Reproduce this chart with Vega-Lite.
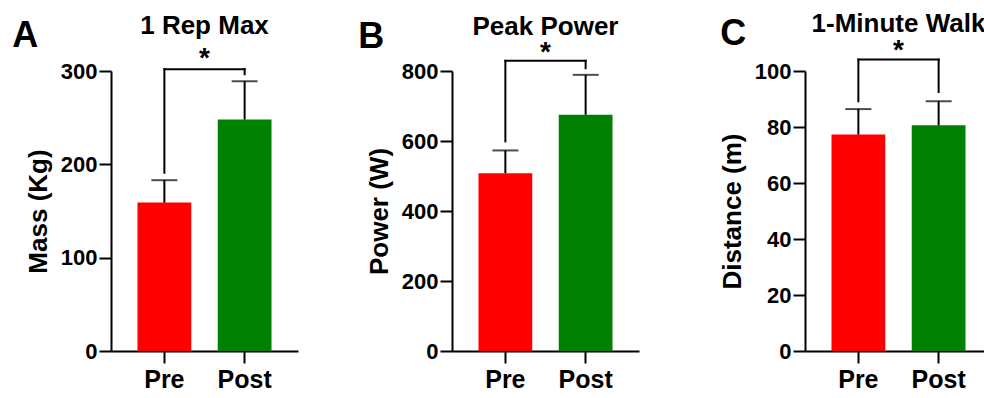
{
  "$schema": "https://vega.github.io/schema/vega-lite/v6.json",
  "padding": {"left": 12, "top": 11, "right": 0, "bottom": 0},
  "spacing": 60,
  "config": {
    "view": {"stroke": null},
    "font": "Liberation Sans",
    "axis": {"domainColor": "black", "domainWidth": 2, "tickColor": "black", "tickWidth": 2, "tickSize": 12, "labelColor": "black", "labelFont": "Liberation Sans", "labelFontWeight": "bold", "titleFont": "Liberation Sans", "titleFontWeight": "bold", "titleColor": "black", "grid": false},
    "axisY": {"labelFontSize": 22, "labelPadding": 2, "titleFontSize": 26, "titlePadding": 9},
    "axisX": {"labelFontSize": 25, "labelPadding": 4, "labelAngle": 0},
    "title": {"anchor": "start", "frame": "bounds", "fontSize": 36, "fontWeight": "bold", "color": "black", "font": "Liberation Sans", "baseline": "alphabetic", "offset": -42}
  },
  "hconcat": [
    {
      "width": 187, "height": 280,
      "title": {"text": "A", "dx": -13},
      "layer": [
        {
          "data": {"values": [{"g": "Pre", "m": 159, "u": 183}, {"g": "Post", "m": 248, "u": 289}]},
          "mark": {"type": "bar"},
          "encoding": {
            "x": {"field": "g", "type": "nominal", "title": null, "scale": {"domain": ["Pre", "Post"], "paddingInner": 0.33, "paddingOuter": 0.33}},
            "y": {"field": "m", "type": "quantitative", "title": "Mass (Kg)", "scale": {"domain": [0, 300], "nice": false}, "axis": {"values": [0, 100, 200, 300]}},
            "color": {"field": "g", "type": "nominal", "scale": {"domain": ["Pre", "Post"], "range": ["#ff0000", "#008000"]}, "legend": null}
          }
        },
        {
          "data": {"values": [{"g": "Pre", "m": 159, "u": 183}, {"g": "Post", "m": 248, "u": 289}]},
          "mark": {"type": "rule", "color": "black", "strokeWidth": 2},
          "encoding": {
            "x": {"field": "g", "type": "nominal", "title": null},
            "y": {"field": "m", "type": "quantitative", "title": "Mass (Kg)"},
            "y2": {"field": "u"}
          }
        },
        {
          "data": {"values": [{"g": "Pre", "m": 159, "u": 183}, {"g": "Post", "m": 248, "u": 289}]},
          "mark": {"type": "tick", "color": "black", "thickness": 2, "size": 26, "orient": "horizontal"},
          "encoding": {
            "x": {"field": "g", "type": "nominal", "title": null},
            "y": {"field": "u", "type": "quantitative", "title": "Mass (Kg)"}
          }
        },
        {
          "data": {"values": [{"g": "Pre", "lo": 191, "hi": 302}, {"g": "Post", "lo": 296.5, "hi": 302}]},
          "mark": {"type": "rule", "color": "black", "strokeWidth": 2, "strokeCap": "square"},
          "encoding": {
            "x": {"field": "g", "type": "nominal", "title": null},
            "y": {"field": "lo", "type": "quantitative", "title": "Mass (Kg)"},
            "y2": {"field": "hi"}
          }
        },
        {
          "data": {"values": [{"a": "Pre", "b": "Post", "y": 302}]},
          "mark": {"type": "rule", "color": "black", "strokeWidth": 2, "strokeCap": "square"},
          "encoding": {
            "x": {"field": "a", "type": "nominal", "title": null},
            "x2": {"field": "b"},
            "y": {"field": "y", "type": "quantitative", "title": "Mass (Kg)"}
          }
        },
        {
          "data": {"values": [{"t": "1 Rep Max", "y": 340}]},
          "mark": {"type": "text", "fontSize": 26, "fontWeight": "bold", "color": "black", "baseline": "alphabetic", "align": "center"},
          "encoding": {
            "text": {"field": "t"},
            "y": {"field": "y", "type": "quantitative", "title": "Mass (Kg)"}
          }
        },
        {
          "data": {"values": [{"t": "*", "y": 304}]},
          "mark": {"type": "text", "fontSize": 28, "fontWeight": "bold", "color": "black", "baseline": "alphabetic", "align": "center"},
          "encoding": {
            "text": {"field": "t"},
            "y": {"field": "y", "type": "quantitative", "title": "Mass (Kg)"}
          }
        }
      ]
    },
    {
      "spacing": 80,
      "hconcat": [
        {
          "width": 187, "height": 280,
          "title": {"text": "B", "dx": -8},
          "layer": [
            {
              "data": {"values": [{"g": "Pre", "m": 508, "u": 573}, {"g": "Post", "m": 675, "u": 789}]},
              "mark": {"type": "bar"},
              "encoding": {
                "x": {"field": "g", "type": "nominal", "title": null, "scale": {"domain": ["Pre", "Post"], "paddingInner": 0.33, "paddingOuter": 0.33}},
                "y": {"field": "m", "type": "quantitative", "title": "Power (W)", "scale": {"domain": [0, 800], "nice": false}, "axis": {"values": [0, 200, 400, 600, 800]}},
                "color": {"field": "g", "type": "nominal", "scale": {"domain": ["Pre", "Post"], "range": ["#ff0000", "#008000"]}, "legend": null}
              }
            },
            {
              "data": {"values": [{"g": "Pre", "m": 508, "u": 573}, {"g": "Post", "m": 675, "u": 789}]},
              "mark": {"type": "rule", "color": "black", "strokeWidth": 2},
              "encoding": {
                "x": {"field": "g", "type": "nominal", "title": null},
                "y": {"field": "m", "type": "quantitative", "title": "Power (W)"},
                "y2": {"field": "u"}
              }
            },
            {
              "data": {"values": [{"g": "Pre", "m": 508, "u": 573}, {"g": "Post", "m": 675, "u": 789}]},
              "mark": {"type": "tick", "color": "black", "thickness": 2, "size": 26, "orient": "horizontal"},
              "encoding": {
                "x": {"field": "g", "type": "nominal", "title": null},
                "y": {"field": "u", "type": "quantitative", "title": "Power (W)"}
              }
            },
            {
              "data": {"values": [{"g": "Pre", "lo": 599, "hi": 829}, {"g": "Post", "lo": 808, "hi": 829}]},
              "mark": {"type": "rule", "color": "black", "strokeWidth": 2, "strokeCap": "square"},
              "encoding": {
                "x": {"field": "g", "type": "nominal", "title": null},
                "y": {"field": "lo", "type": "quantitative", "title": "Power (W)"},
                "y2": {"field": "hi"}
              }
            },
            {
              "data": {"values": [{"a": "Pre", "b": "Post", "y": 829}]},
              "mark": {"type": "rule", "color": "black", "strokeWidth": 2, "strokeCap": "square"},
              "encoding": {
                "x": {"field": "a", "type": "nominal", "title": null},
                "x2": {"field": "b"},
                "y": {"field": "y", "type": "quantitative", "title": "Power (W)"}
              }
            },
            {
              "data": {"values": [{"t": "Peak Power", "y": 904}]},
              "mark": {"type": "text", "fontSize": 26, "fontWeight": "bold", "color": "black", "baseline": "alphabetic", "align": "center"},
              "encoding": {
                "text": {"field": "t"},
                "y": {"field": "y", "type": "quantitative", "title": "Power (W)"}
              }
            },
            {
              "data": {"values": [{"t": "*", "y": 828}]},
              "mark": {"type": "text", "fontSize": 28, "fontWeight": "bold", "color": "black", "baseline": "alphabetic", "align": "center"},
              "encoding": {
                "text": {"field": "t"},
                "y": {"field": "y", "type": "quantitative", "title": "Power (W)"}
              }
            }
          ]
        },
        {
          "width": 187, "height": 280,
          "title": {"text": "C", "dx": 1},
          "layer": [
            {
              "data": {"values": [{"g": "Pre", "m": 77.3, "u": 86.4}, {"g": "Post", "m": 80.6, "u": 89.2}]},
              "mark": {"type": "bar"},
              "encoding": {
                "x": {"field": "g", "type": "nominal", "title": null, "scale": {"domain": ["Pre", "Post"], "paddingInner": 0.33, "paddingOuter": 0.33}},
                "y": {"field": "m", "type": "quantitative", "title": "Distance (m)", "scale": {"domain": [0, 100], "nice": false}, "axis": {"values": [0, 20, 40, 60, 80, 100]}},
                "color": {"field": "g", "type": "nominal", "scale": {"domain": ["Pre", "Post"], "range": ["#ff0000", "#008000"]}, "legend": null}
              }
            },
            {
              "data": {"values": [{"g": "Pre", "m": 77.3, "u": 86.4}, {"g": "Post", "m": 80.6, "u": 89.2}]},
              "mark": {"type": "rule", "color": "black", "strokeWidth": 2},
              "encoding": {
                "x": {"field": "g", "type": "nominal", "title": null},
                "y": {"field": "m", "type": "quantitative", "title": "Distance (m)"},
                "y2": {"field": "u"}
              }
            },
            {
              "data": {"values": [{"g": "Pre", "m": 77.3, "u": 86.4}, {"g": "Post", "m": 80.6, "u": 89.2}]},
              "mark": {"type": "tick", "color": "black", "thickness": 2, "size": 26, "orient": "horizontal"},
              "encoding": {
                "x": {"field": "g", "type": "nominal", "title": null},
                "y": {"field": "u", "type": "quantitative", "title": "Distance (m)"}
              }
            },
            {
              "data": {"values": [{"g": "Pre", "lo": 89.2, "hi": 104.1}, {"g": "Post", "lo": 92.5, "hi": 104.1}]},
              "mark": {"type": "rule", "color": "black", "strokeWidth": 2, "strokeCap": "square"},
              "encoding": {
                "x": {"field": "g", "type": "nominal", "title": null},
                "y": {"field": "lo", "type": "quantitative", "title": "Distance (m)"},
                "y2": {"field": "hi"}
              }
            },
            {
              "data": {"values": [{"a": "Pre", "b": "Post", "y": 104.1}]},
              "mark": {"type": "rule", "color": "black", "strokeWidth": 2, "strokeCap": "square"},
              "encoding": {
                "x": {"field": "a", "type": "nominal", "title": null},
                "x2": {"field": "b"},
                "y": {"field": "y", "type": "quantitative", "title": "Distance (m)"}
              }
            },
            {
              "data": {"values": [{"t": "1-Minute Walk", "y": 113.9}]},
              "mark": {"type": "text", "fontSize": 26, "fontWeight": "bold", "color": "black", "baseline": "alphabetic", "align": "center"},
              "encoding": {
                "text": {"field": "t"},
                "y": {"field": "y", "type": "quantitative", "title": "Distance (m)"}
              }
            },
            {
              "data": {"values": [{"t": "*", "y": 104.2}]},
              "mark": {"type": "text", "fontSize": 28, "fontWeight": "bold", "color": "black", "baseline": "alphabetic", "align": "center"},
              "encoding": {
                "text": {"field": "t"},
                "y": {"field": "y", "type": "quantitative", "title": "Distance (m)"}
              }
            }
          ]
        }
      ]
    }
  ]
}
